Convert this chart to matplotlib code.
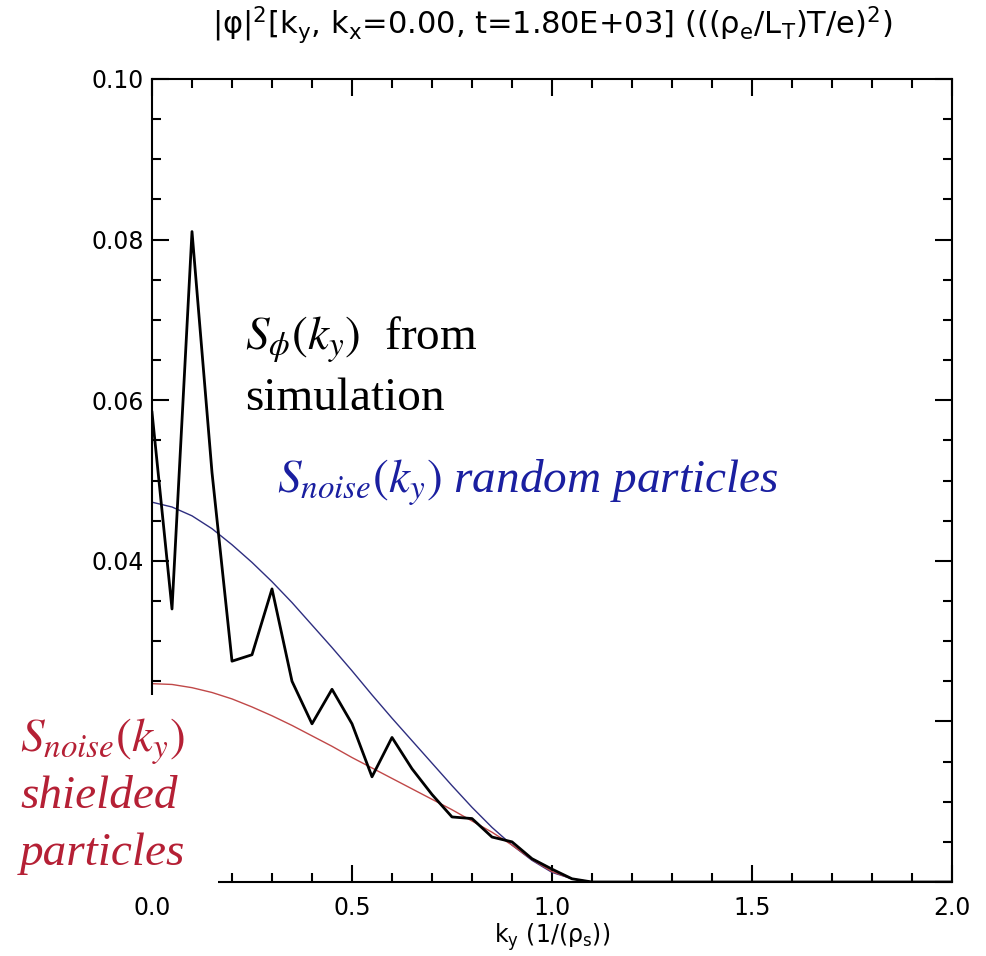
import numpy as np
import matplotlib
matplotlib.use('Agg')
import matplotlib.pyplot as plt
from matplotlib.patches import Rectangle

# ky grid (1/rho_s) and spectra
ky = [0.0, 0.05, 0.10, 0.15, 0.20, 0.25, 0.30, 0.35, 0.40, 0.45, 0.50, 0.55,
      0.60, 0.65, 0.70, 0.75, 0.80, 0.85, 0.90, 0.95, 1.00, 1.05, 1.10, 2.0]

# |phi|^2 from the simulation
s_phi = [0.0585, 0.0340, 0.0810, 0.0510, 0.0275, 0.0283, 0.0365, 0.0250,
         0.0197, 0.0240, 0.0197, 0.0131, 0.0180, 0.0141, 0.0109, 0.0081,
         0.0079, 0.0056, 0.0050, 0.0029, 0.0016, 0.0004, 0.0, 0.0]

# noise level, random particles
s_noise_random = [0.0473, 0.0467, 0.0456, 0.0440, 0.0420, 0.0398, 0.0374,
                  0.0348, 0.0320, 0.0292, 0.0263, 0.0233, 0.0204, 0.0176,
                  0.0148, 0.0120, 0.0093, 0.0068, 0.0046, 0.0027, 0.0012,
                  0.0004, 0.0, 0.0]

# noise level, shielded particles
s_noise_shielded = [0.0247, 0.0246, 0.0242, 0.0236, 0.0228, 0.0218, 0.0207,
                    0.0195, 0.0182, 0.0169, 0.0155, 0.0142, 0.0129, 0.0116,
                    0.0103, 0.0090, 0.0076, 0.0062, 0.0046, 0.0028, 0.0013,
                    0.0004, 0.0, 0.0]

x_ticks = [0.0, 0.5, 1.0, 1.5, 2.0]
x_ticklabels = ['0.0', '0.5', '1.0', '1.5', '2.0']
y_ticks = [0.0, 0.02, 0.04, 0.06, 0.08, 0.10]
# lowest two labels sit under the white label box in the original
y_ticklabels = ['', '', '0.04', '0.06', '0.08', '0.10']

W, H = 986, 956
fig = plt.figure(figsize=(W / 100, H / 100), dpi=100)
ax = fig.add_axes([152 / W, 1 - 882 / H, 800 / W, 803 / H])

ax.plot(ky, s_noise_random, color='#2e2e80', lw=1.0, zorder=2)
ax.plot(ky, s_noise_shielded, color='#c04848', lw=1.0, zorder=2)
ax.plot(ky, s_phi, color='black', lw=2.0, zorder=3)

ax.set_xlim(0, 2.0)
ax.set_ylim(0, 0.10)
ax.set_xticks(x_ticks)
ax.set_xticklabels(x_ticklabels)
ax.set_yticks(y_ticks)
ax.set_yticklabels(y_ticklabels)
ax.set_xticks(np.arange(0, 2.01, 0.1), minor=True)
ax.set_yticks(np.arange(0, 0.1001, 0.005), minor=True)
ax.tick_params(which='both', direction='in', top=True, right=True, width=1.5,
               labelsize=17, color='black')
ax.tick_params(which='major', length=12)
ax.tick_params(which='minor', length=6.5)
ax.tick_params(axis='y', pad=6)
ax.tick_params(axis='x', pad=10)
for sp in ax.spines.values():
    sp.set_linewidth(1.5)

ax.set_title(r'|φ|$\mathregular{^2}$[k$\mathregular{_y}$, k$\mathregular{_x}$=0.00, '
             r't=1.80E+03] (((ρ$\mathregular{_e}$/L$\mathregular{_T}$)T/e)$\mathregular{^2}$)',
             fontsize=22, pad=32)
ax.set_xlabel(r'k$\mathregular{_y}$ (1/(ρ$\mathregular{_s}$))', fontsize=17, labelpad=1)

# annotations (figure pixel positions)
serif = 'Liberation Serif'
fig.text(245 / W, 1 - 350 / H, r'$S_\phi(k_y)$  from', fontsize=34,
         family=serif, math_fontfamily='stix', va='baseline', color='black')
fig.text(245 / W, 1 - 410 / H, 'simulation', fontsize=34,
         family=serif, va='baseline', color='black')
fig.text(277 / W, 1 - 493 / H, r'$S_{noise}(k_y)$ random particles', fontsize=34,
         family=serif, style='italic', math_fontfamily='stix', va='baseline',
         color='#1a1fa0')

# white box over the lower-left corner for the shielded label
fig.add_artist(Rectangle((0, 1 - 888 / H), 218 / W, (888 - 695) / H,
                         transform=fig.transFigure, facecolor='white',
                         edgecolor='none', zorder=5))
red = '#b52035'
fig.text(20 / W, 1 - 752 / H, r'$S_{noise}(k_y)$', fontsize=34, family=serif,
         style='italic', math_fontfamily='stix', va='baseline', color=red, zorder=6)
fig.text(20 / W, 1 - 808 / H, 'shielded', fontsize=34, family=serif,
         style='italic', va='baseline', color=red, zorder=6)
fig.text(20 / W, 1 - 865 / H, 'particles', fontsize=34, family=serif,
         style='italic', va='baseline', color=red, zorder=6)

fig.savefig('out.png', dpi=100, facecolor='white')
